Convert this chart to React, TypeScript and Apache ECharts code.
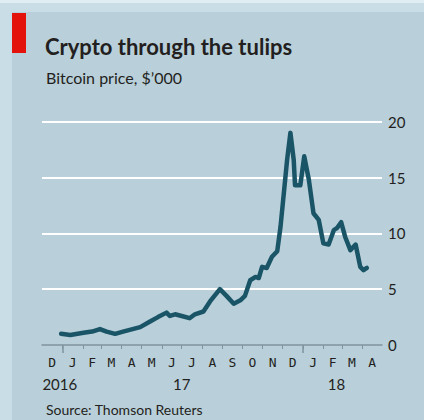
import React, { useEffect, useRef } from "react";
import * as echarts from "echarts";

const dates = ['2016-12-30','2017-01-13','2017-02-02','2017-02-15','2017-02-27','2017-03-09','2017-03-22','2017-04-03','2017-04-16','2017-04-29','2017-05-14','2017-05-26','2017-06-08','2017-06-13','2017-06-21','2017-07-01','2017-07-13','2017-07-21','2017-08-03','2017-08-13','2017-08-28','2017-09-07','2017-09-18','2017-09-28','2017-10-05','2017-10-13','2017-10-21','2017-10-26','2017-10-31','2017-11-07','2017-11-15','2017-11-23','2017-11-28','2017-12-03','2017-12-08','2017-12-13','2017-12-18','2017-12-20','2017-12-28','2018-01-03','2018-01-10','2018-01-17','2018-01-25','2018-02-01','2018-02-09','2018-02-17','2018-02-22','2018-02-28','2018-03-06','2018-03-14','2018-03-22','2018-03-29','2018-04-03','2018-04-08'];
const prices = [1.0,0.9,1.1,1.2,1.43,1.2,1.0,1.2,1.4,1.6,2.1,2.5,2.9,2.6,2.75,2.6,2.4,2.75,3.0,3.9,5.0,4.4,3.7,4.0,4.4,5.8,6.1,6.0,7.0,6.9,7.9,8.4,10.6,13.6,16.6,19.0,16.6,14.3,14.3,16.9,14.8,11.8,11.2,9.1,9.0,10.3,10.5,11.0,9.7,8.5,9.0,7.0,6.7,6.9];

const monthLetters = ['D','J','F','M','A','M','J','J','A','S','O','N','D','J','F','M','A'];
const yearLabels = ['2016', '17', '18'];
const yearLabelDates = ['2016-12-28', '2017-07-01', '2018-02-21'];
const yTicks = [0, 5, 10, 15, 20];

const TITLE = 'Crypto through the tulips';
const SUBTITLE = 'Bitcoin price, $\u2019000';
const SOURCE = 'Source: Thomson Reuters';

const DAY = 86400000;
const ts = (s: string) => {
  const [y, m, d] = s.split('-').map(Number);
  return Date.UTC(y, m - 1, d) / DAY;
};
const monthStart = (i: number) => Date.UTC(2016, 11 + i, 1) / DAY;

export default function App() {
  const ref = useRef<HTMLDivElement>(null);
  useEffect(() => {
    if (!ref.current) return;
    const chart = echarts.init(ref.current, undefined, { renderer: 'svg' });
    const monthStarts: number[] = [];
    const monthMids: number[] = [];
    for (let i = 0; i <= monthLetters.length; i++) {
      monthStarts.push(monthStart(i));
      if (i < monthLetters.length) monthMids.push((monthStart(i) + monthStart(i + 1)) / 2);
    }
    const xMin = monthStarts[0];
    const xMax = monthStarts[monthStarts.length - 1];
    const innerTicks = monthStarts.slice(1, -1);
    const yearStarts = [ts('2017-01-01'), ts('2018-01-01')];
    const yearPos = yearLabelDates.map(ts);
    const font = 'Lato, "Open Sans", sans-serif';
    const axisGrey = '#7f949e';

    chart.setOption({
      animation: false,
      title: [
        { text: TITLE, left: 40, top: 30, textStyle: { fontFamily: font, fontWeight: 'bold', fontSize: 22, color: '#231f20' } },
        { text: SUBTITLE, left: 41, top: 64, textStyle: { fontFamily: font, fontWeight: 'normal', fontSize: 16, color: '#231f20' } },
        { text: SOURCE, left: 41, top: 397, textStyle: { fontFamily: font, fontWeight: 'normal', fontSize: 14, color: '#231f20' } },
      ],
      grid: { left: 42, width: 340, top: 121.7, bottom: 75, containLabel: false },
      xAxis: [
        {
          type: 'value', position: 'bottom', min: xMin, max: xMax, scale: true,
          axisLine: { show: true, onZero: false, lineStyle: { color: axisGrey, width: 1.5 } },
          axisTick: { show: true, customValues: innerTicks, length: 4, lineStyle: { color: axisGrey, width: 1 } },
          axisLabel: {
            customValues: monthMids, margin: 11,
            formatter: (v: number) => { const i = monthMids.findIndex((m) => Math.abs(m - v) < 0.01); return i >= 0 ? monthLetters[i] : ''; },
            fontFamily: '"DejaVu Sans Mono", monospace', fontSize: 13, color: '#231f20',
          },
          splitLine: { show: false },
        },
        {
          type: 'value', position: 'bottom', offset: 0, min: xMin, max: xMax, scale: true,
          axisLine: { show: false, onZero: false },
          axisTick: { show: true, customValues: yearStarts, length: 8, lineStyle: { color: axisGrey, width: 1.5 } },
          axisLabel: {
            customValues: yearPos, margin: 31,
            formatter: (v: number) => { const i = yearPos.findIndex((m) => Math.abs(m - v) < 0.01); return i >= 0 ? yearLabels[i] : ''; },
            fontFamily: font, fontSize: 15, color: '#231f20',
          },
          splitLine: { show: false },
        },
      ],
      yAxis: {
        type: 'value', position: 'right', min: yTicks[0], max: yTicks[yTicks.length - 1], interval: 5,
        axisLine: { show: false }, axisTick: { show: false },
        axisLabel: { margin: 6, fontFamily: font, fontSize: 15, color: '#231f20' },
        splitLine: { show: true, lineStyle: { color: ['rgba(0,0,0,0)', '#ffffff', '#ffffff', '#ffffff', '#ffffff'], width: 2 } },
      },
      series: [
        {
          type: 'line', xAxisIndex: 0, showSymbol: false, symbol: 'none',
          data: dates.map((d, i) => [ts(d), prices[i]]),
          lineStyle: { color: '#1a5567', width: 4.5, cap: 'round', join: 'round' },
        },
      ],
    });
    return () => chart.dispose();
  }, []);

  return (
    <div style={{ position: 'fixed', left: 0, top: 0, width: 424, height: 420, background: '#c9dde6', overflow: 'hidden' }}>
      <div style={{ position: 'absolute', left: 0, top: 0, width: 424, height: 3, background: '#e0eef3' }} />
      <div style={{ position: 'absolute', left: 12, top: 12, width: 412, height: 408, background: '#b9cfda' }} />
      <div style={{ position: 'absolute', left: 12, top: 13, width: 14, height: 40, background: '#e3120b' }} />
      <div ref={ref} style={{ position: 'absolute', left: 0, top: 0, width: 424, height: 420 }} />
    </div>
  );
}
